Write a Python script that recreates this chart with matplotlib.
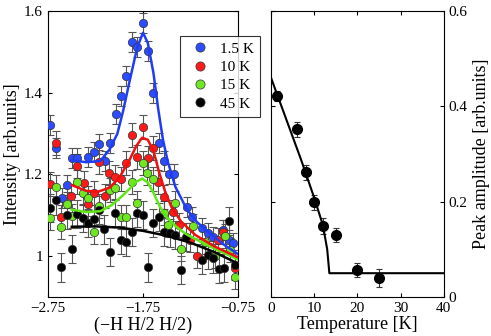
import numpy as np
import matplotlib
matplotlib.use("Agg")
import matplotlib.pyplot as plt

plt.rcParams['font.family'] = ['Liberation Serif', 'DejaVu Serif']
plt.rcParams['mathtext.fontset'] = 'stix'

# ---- left panel: scans along (-H H/2 H/2) ----
x_blue = [-2.73, -2.67, -2.60, -2.55, -2.50, -2.44, -2.33, -2.27, -2.21, -2.15, -2.10,
          -2.03, -1.98, -1.93, -1.87, -1.81, -1.75, -1.70, -1.64, -1.58, -1.53, -1.48,
          -1.42, -1.29, -1.23, -1.13, -1.07, -1.01, -0.91, -0.84, -0.80]
y_blue = [1.321, 1.265, 1.142, 1.174, 1.240, 1.240, 1.243, 1.255, 1.274, 1.233, 1.277,
          1.348, 1.392, 1.441, 1.524, 1.512, 1.571, 1.502, 1.399, 1.277, 1.233, 1.201,
          1.201, 1.120, 1.096, 1.068, 1.057, 1.047, 1.064, 1.040, 1.032]

x_red = [-2.73, -2.67, -2.61, -2.51, -2.44, -2.37, -2.33, -2.27, -2.21, -2.15, -2.11,
         -2.04, -1.98, -1.93, -1.87, -1.81, -1.75, -1.70, -1.64, -1.59, -1.53, -1.43,
         -1.37, -1.26, -1.18, -0.96, -0.91, -0.78]
y_red = [1.177, 1.277, 1.096, 1.147, 1.221, 1.179, 1.128, 1.155, 1.230, 1.147, 1.204,
         1.194, 1.189, 1.228, 1.297, 1.243, 1.316, 1.240, 1.265, 1.181, 1.145, 1.108,
         1.076, 1.040, 1.000, 1.040, 1.059, 0.971]

x_green = [-2.73, -2.67, -2.61, -2.55, -2.50, -2.44, -2.38, -2.33, -2.27, -2.21, -2.10,
           -2.04, -1.98, -1.93, -1.87, -1.81, -1.75, -1.71, -1.64, -1.53, -1.49, -1.41,
           -1.35, -1.22, -1.10, -0.99, -0.89, -0.83, -0.78]
y_green = [1.093, 1.169, 1.071, 1.128, 1.098, 1.181, 1.155, 1.142, 1.059, 1.123, 1.162,
           1.167, 1.096, 1.096, 1.181, 1.130, 1.228, 1.204, 1.189, 1.106, 1.076, 1.130,
           1.018, 1.074, 1.035, 1.000, 1.049, 1.015, 0.949]

x_black = [-2.73, -2.67, -2.61, -2.55, -2.50, -2.44, -2.38, -2.33, -2.27, -2.21, -2.16,
           -2.10, -2.04, -1.98, -1.93, -1.87, -1.81, -1.75, -1.70, -1.64, -1.58, -1.53,
           -1.47, -1.41, -1.35, -1.30, -1.13, -1.07, -1.01, -0.95, -0.90, -0.84, -0.78]
y_black = [1.118, 1.137, 0.973, 1.101, 1.018, 1.103, 1.093, 1.081, 1.091, 1.113, 1.066,
           1.010, 1.106, 1.040, 1.035, 1.059, 1.106, 1.101, 0.973, 1.081, 1.096, 1.059,
           1.057, 1.052, 0.966, 1.047, 0.991, 1.003, 0.995, 0.969, 0.971, 1.086, 0.979]

err_scan = {'blue': 0.025, 'red': 0.03, 'green': 0.03, 'black': 0.035}

# fitted curves
fx_blue = [-2.50, -2.35, -2.20, -2.10, -2.02, -1.96, -1.89, -1.81, -1.75, -1.70, -1.64,
           -1.59, -1.54, -1.49, -1.41, -1.29, -1.18, -1.04, -0.91, -0.75]
fy_blue = [1.235, 1.230, 1.233, 1.262, 1.300, 1.355, 1.430, 1.512, 1.547, 1.522, 1.448,
           1.360, 1.285, 1.232, 1.170, 1.115, 1.083, 1.055, 1.030, 1.005]
fx_red = [-2.50, -2.35, -2.22, -2.10, -2.00, -1.90, -1.82, -1.76, -1.70, -1.64, -1.58,
          -1.52, -1.45, -1.35, -1.20, -1.00, -0.75]
fy_red = [1.174, 1.160, 1.158, 1.168, 1.192, 1.232, 1.270, 1.290, 1.285, 1.258, 1.205,
          1.160, 1.120, 1.085, 1.052, 1.024, 0.997]
fx_green = [-2.50, -2.35, -2.20, -2.08, -1.98, -1.90, -1.82, -1.76, -1.70, -1.64, -1.57,
            -1.50, -1.40, -1.29, -1.10, -0.90, -0.75]
fy_green = [1.114, 1.108, 1.110, 1.125, 1.145, 1.163, 1.182, 1.190, 1.180, 1.155, 1.120,
            1.095, 1.072, 1.053, 1.030, 1.008, 0.992]
fx_black = [-2.50, -2.25, -2.00, -1.75, -1.50, -1.25, -1.00, -0.75]
fy_black = [1.072, 1.073, 1.070, 1.062, 1.050, 1.033, 1.010, 0.982]

# ---- right panel: peak amplitude vs temperature ----
temps = [1.4, 6.0, 8.0, 10.0, 12.0, 15.0, 20.0, 25.0]
amps = [0.422, 0.352, 0.262, 0.199, 0.149, 0.130, 0.057, 0.040]
amp_err = [0.01, 0.016, 0.016, 0.016, 0.017, 0.015, 0.015, 0.018]
fit_T = [0.0, 7.0, 10.0, 12.0, 13.0, 13.5, 40.0]
fit_A = [0.460, 0.287, 0.208, 0.151, 0.100, 0.050, 0.050]

labels = ['1.5 K', '10 K', '15 K', '45 K']
colors = {'blue': '#2b4cff', 'red': '#ff1a1a', 'green': '#6fe823', 'black': '#000000'}
line_colors = {'blue': '#1f3df5', 'red': '#f01010', 'green': '#5ee815', 'black': '#000000'}

fig = plt.figure(figsize=(4.91, 3.36), dpi=100)
ax1 = fig.add_axes([0.0978, 0.116, 0.387, 0.851])
ax2 = fig.add_axes([0.552, 0.116, 0.352, 0.851])

scans = [('blue', x_blue, y_blue), ('red', x_red, y_red),
         ('green', x_green, y_green), ('black', x_black, y_black)]
handles = []
for (c, xs, ys), lab in zip(scans, labels):
    ax1.errorbar(xs, ys, yerr=err_scan[c], fmt='none', ecolor='#555555',
                 elinewidth=0.8, capsize=3, capthick=0.8, zorder=2)
    h, = ax1.plot(xs, ys, 'o', color=colors[c], mec='#333333', mew=0.5,
                  ms=6, zorder=3, label=lab)
    handles.append(h)

for c, fx, fy in [('black', fx_black, fy_black), ('green', fx_green, fy_green),
                  ('red', fx_red, fy_red), ('blue', fx_blue, fy_blue)]:
    ax1.plot(fx, fy, '-', color=line_colors[c], lw=1.8, zorder=4)

ax1.set_xlim(-2.75, -0.75)
ax1.set_ylim(0.9, 1.6)
ax1.set_xticks([-2.75, -1.75, -0.75])
ax1.set_xticklabels(['\u22122.75', '\u22121.75', '\u22120.75'])
ax1.set_yticks([1.0, 1.2, 1.4, 1.6])
ax1.set_yticklabels(['1', '1.2', '1.4', '1.6'])
ax1.tick_params(direction='in', top=True, right=True, labelsize=11, length=3)
ax1.set_xlabel('(\u2212H H/2 H/2)', fontsize=13, labelpad=1)
ax1.set_ylabel('Intensity [arb.units]', fontsize=13, labelpad=2)

leg = fig.legend(handles=handles, labels=labels, loc='upper left',
                 bbox_to_anchor=(0.367, 0.893), borderaxespad=0, fontsize=11,
                 frameon=True, fancybox=False, edgecolor='black', handletextpad=0.4,
                 handlelength=1.8, borderpad=0.4, labelspacing=0.3, markerscale=1.1)
leg.get_frame().set_linewidth(0.8)
leg.set_zorder(10)

ax2.errorbar(temps, amps, yerr=amp_err, fmt='none', ecolor='#333333',
             elinewidth=0.8, capsize=2, capthick=0.8, zorder=2)
ax2.plot(temps, amps, 'o', color='black', ms=7, zorder=3)
ax2.plot(fit_T, fit_A, '-', color='black', lw=1.5, zorder=4)
ax2.set_xlim(0, 40)
ax2.set_ylim(0, 0.6)
ax2.set_xticks([0, 10, 20, 30, 40])
ax2.set_yticks([0, 0.2, 0.4, 0.6])
ax2.set_yticklabels(['0', '0.2', '0.4', '0.6'])
ax2.yaxis.tick_right()
ax2.yaxis.set_label_position('right')
ax2.tick_params(direction='in', top=True, left=True, right=True, labelsize=11, length=3)
ax2.set_xlabel('Temperature [K]', fontsize=13, labelpad=1)
ax2.set_ylabel('Peak amplitude [arb.units]', fontsize=13, labelpad=4)

for ax in (ax1, ax2):
    for s in ax.spines.values():
        s.set_linewidth(0.8)

fig.savefig('out.png', dpi=100)
